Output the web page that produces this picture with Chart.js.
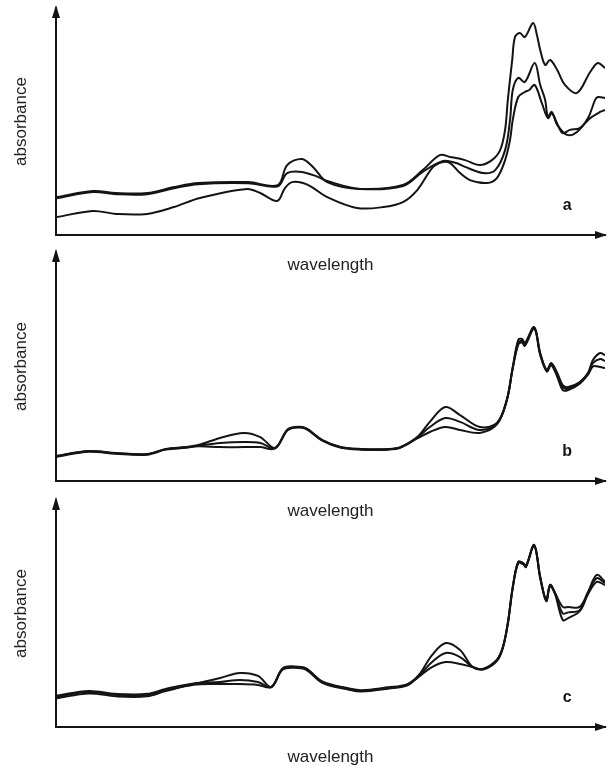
<!DOCTYPE html>
<html>
<head>
<meta charset="utf-8">
<script src="https://cdn.jsdelivr.net/npm/chart.js@4.4.1/dist/chart.umd.min.js"></script>
<style>
  html, body { margin: 0; padding: 0; background: #fff; overflow: hidden; }
  #wrap { position: relative; width: 608px; height: 768px; }
  #wrap canvas { position: absolute; left: 0; }
</style>
</head>
<body>
<div id="wrap">
  <canvas id="chartA" width="608" height="276" style="top:0px"></canvas>
  <canvas id="chartB" width="608" height="276" style="top:246px"></canvas>
  <canvas id="chartC" width="608" height="276" style="top:492px"></canvas>
</div>
<script>
// ==================== DATA ====================
// x: wavelength (0..100, arbitrary), y: absorbance (0..100, arbitrary)

// panel a
const aX1 = [0.2, 6.7, 10.9, 16.6, 21.5, 25.9, 35.0, 40.4, 42.1, 44.8, 46.8, 49.4, 55.4, 63.2, 66.8, 69.9, 71.8, 74.5, 77.2, 79.4,
             80.9, 81.8, 82.3, 83.1, 83.6, 84.5, 85.4, 86.9, 87.6, 88.2, 89.1, 90.0, 91.3, 92.7, 94.9, 97.3, 98.7, 100];
const aY1 = [16.7, 19.4, 18.5, 18.5, 21.1, 22.9, 23.3, 22.0, 30.8, 33.5, 30.0, 23.3, 20.3, 22.0, 28.6, 35.2, 34.4, 33.0, 30.8, 33.0,
             37.4, 46.3, 59.5, 77.1, 87.2, 89.0, 87.2, 93.4, 88.1, 81.5, 74.9, 77.1, 72.7, 66.1, 62.6, 71.8, 75.8, 73.6];
const aX2 = [0.2, 6.7, 10.9, 16.6, 21.5, 25.9, 35.0, 40.4, 42.1, 44.8, 47.7, 49.4, 55.4, 63.2, 66.8, 70.5, 72.9, 74.5, 77.8, 80.0,
             81.8, 82.7, 83.2, 84.2, 85.4, 87.2, 88.2, 89.1, 89.6, 90.3, 91.3, 93.1, 94.9, 96.9, 98.2, 98.7, 100];
const aY2 = [16.2, 18.9, 18.0, 18.0, 20.6, 22.4, 22.8, 21.5, 27.3, 27.8, 25.6, 23.8, 20.3, 21.6, 27.8, 32.6, 31.7, 30.0, 27.3, 28.6,
             37.4, 50.7, 63.9, 69.2, 67.4, 75.8, 66.1, 59.5, 52.0, 54.2, 48.5, 44.1, 45.4, 51.5, 59.5, 60.8, 60.4];
const aX3 = [0.2, 6.7, 10.9, 16.6, 21.5, 26.2, 34.8, 37.2, 40.3, 41.7, 43.0, 45.0, 46.6, 49.4, 54.8, 59.6, 63.2, 65.8, 68.7, 70.5,
             71.8, 73.6, 75.4, 78.5, 80.3, 81.8, 82.7, 83.2, 84.2, 85.4, 86.2, 87.2, 88.5, 89.6, 90.3, 91.4, 92.3, 93.6, 95.4, 97.3,
             99.1, 100];
const aY3 = [7.9, 10.6, 9.3, 9.3, 12.3, 16.3, 20.3, 18.5, 15.0, 20.7, 23.3, 22.9, 21.1, 16.7, 11.9, 12.3, 14.5, 19.8, 30.0, 32.2,
             31.7, 27.3, 24.2, 22.9, 25.1, 33.0, 41.9, 50.7, 60.8, 63.0, 63.9, 66.1, 58.1, 51.5, 53.7, 48.5, 44.9, 46.3, 47.1, 51.5,
             54.2, 55.1];

// panel b
const bX = [0, 6.0, 10.9, 16.6, 20.0, 23.7, 25.9, 29.9, 34.2, 37.2, 39.9, 42.1, 43.5, 45.5, 48.5, 51.9, 55.6, 60.5, 62.7, 65.8,
            68.1, 70.9, 73.6, 77.2, 80.3, 82.1, 83.2, 84.2, 84.9, 85.4, 87.1, 88.2, 89.4, 90.2, 91.3, 92.3, 93.3, 95.4, 96.9, 97.8,
            99.1, 100];
const bY1 = [10.9, 13.1, 12.2, 11.8, 14.0, 14.8, 15.7, 18.8, 21.0, 19.2, 14.4, 22.3, 23.6, 23.1, 17.9, 14.8, 14.0, 14.0, 14.8, 19.2,
             25.8, 32.3, 28.8, 23.6, 25.3, 35.4, 49.8, 61.6, 62.0, 60.3, 67.2, 55.9, 48.5, 51.5, 47.2, 41.9, 41.0, 43.2, 47.2, 52.8,
             55.9, 55.0];
const bY2 = [10.8, 13.0, 12.1, 11.7, 13.9, 14.7, 15.4, 16.6, 17.0, 16.6, 14.4, 22.2, 23.5, 23.0, 17.8, 14.7, 13.9, 13.9, 14.7, 19.0,
             23.6, 27.5, 25.8, 22.3, 25.0, 35.2, 49.5, 60.3, 61.2, 59.6, 67.0, 55.5, 48.2, 51.2, 46.6, 41.0, 40.3, 43.0, 47.0, 51.5,
             53.3, 52.4];
const bY3 = [10.6, 12.8, 11.9, 11.5, 13.7, 14.5, 15.2, 14.8, 14.8, 14.8, 14.2, 22.0, 23.3, 22.8, 17.6, 14.5, 13.7, 13.7, 14.5, 18.6,
             21.4, 23.6, 22.3, 21.0, 24.7, 35.0, 49.2, 59.5, 60.5, 59.0, 66.5, 55.0, 47.8, 50.6, 45.5, 39.7, 39.7, 42.5, 46.4, 50.0,
             49.8, 49.3];

// panel c
const cX = [0, 6.0, 10.9, 16.6, 20.0, 25.1, 29.9, 33.5, 36.8, 39.2, 41.3, 43.5, 45.5, 48.5, 53.4, 55.6, 60.5, 63.9, 66.1, 68.5,
            71.0, 73.6, 75.9, 77.8, 80.3, 81.4, 82.3, 83.2, 84.2, 85.1, 85.6, 87.1, 88.2, 89.3, 90.0, 90.9, 92.3, 93.3, 95.4, 96.9,
            98.5, 100];
const cY1 = [13.2, 15.4, 14.1, 14.1, 16.3, 18.9, 21.6, 23.8, 22.5, 17.6, 25.6, 26.4, 25.6, 19.8, 16.7, 15.9, 17.2, 18.5, 22.9, 31.7,
             37.0, 33.9, 26.4, 25.6, 29.5, 35.2, 45.8, 61.7, 72.7, 72.2, 70.9, 80.2, 66.1, 55.9, 62.6, 59.0, 52.9, 52.9, 52.9, 59.5,
             67.0, 64.0];
const cY2 = [13.8, 15.9, 14.6, 14.6, 16.8, 19.2, 19.8, 20.7, 19.8, 17.6, 25.9, 26.7, 25.9, 20.1, 17.0, 16.2, 17.5, 18.8, 22.6, 28.6,
             32.6, 30.8, 26.4, 25.6, 29.5, 35.2, 45.8, 61.7, 72.7, 72.2, 70.9, 80.2, 66.1, 55.9, 62.6, 59.0, 50.0, 50.5, 51.5, 59.0,
             65.6, 63.4];
const cY3 = [12.6, 14.8, 13.5, 13.5, 15.8, 18.6, 18.9, 18.9, 18.5, 17.6, 25.3, 26.1, 25.3, 19.5, 16.4, 15.6, 16.9, 18.2, 22.2, 26.4,
             28.6, 27.8, 26.4, 25.3, 29.0, 34.8, 45.3, 61.2, 72.2, 71.7, 70.4, 79.8, 65.5, 55.4, 62.0, 58.5, 47.1, 48.0, 51.0, 58.5,
             63.9, 62.5];

const yTitle = "absorbance";
const xTitle = "wavelength";
const panelLetters = ["a", "b", "c"];

// ==================== HELPERS ====================
const INK = "#141414";
const FONT = "'Liberation Sans', Arial, Helvetica, sans-serif";

function toPoints(xs, ys) {
  return xs.map((x, i) => ({ x: x, y: ys[i] }));
}

function lineSet(xs, ys) {
  return {
    data: toPoints(xs, ys),
    borderColor: INK,
    borderWidth: 2,
    pointRadius: 0,
    tension: 0.35,
    fill: false
  };
}

// arrow heads on the axes + the panel letter
const axisArrows = {
  id: "axisArrows",
  afterDraw(chart, args, opts) {
    const ctx = chart.ctx;
    const a = chart.chartArea;
    ctx.save();
    ctx.fillStyle = INK;
    // y arrow
    ctx.beginPath();
    ctx.moveTo(a.left, a.top - 3);
    ctx.lineTo(a.left - 4, a.top + 10);
    ctx.lineTo(a.left + 4, a.top + 10);
    ctx.closePath();
    ctx.fill();
    // x arrow
    ctx.beginPath();
    ctx.moveTo(chart.width - 1, a.bottom);
    ctx.lineTo(chart.width - 13, a.bottom - 4);
    ctx.lineTo(chart.width - 13, a.bottom + 4);
    ctx.closePath();
    ctx.fill();
    // letter
    const xs = chart.scales.x, ys = chart.scales.y;
    ctx.font = "bold 16px " + FONT;
    ctx.textAlign = "center";
    ctx.textBaseline = "middle";
    ctx.fillText(opts.letter, xs.getPixelForValue(93.1), ys.getPixelForValue(13));
    ctx.restore();
  }
};

function makePanel(id, padTop, sets, letter) {
  return new Chart(document.getElementById(id), {
    type: "line",
    data: { datasets: sets },
    options: {
      responsive: false,
      animation: false,
      layout: { padding: { top: padTop, left: 0, right: 3, bottom: 0.6 } },
      plugins: {
        legend: { display: false },
        tooltip: { enabled: false },
        axisArrows: { letter: letter }
      },
      scales: {
        x: {
          type: "linear",
          min: 0,
          max: 100,
          ticks: { display: false },
          grid: { display: false, drawTicks: false },
          border: { display: true, color: INK, width: 2 },
          title: {
            display: true,
            text: xTitle,
            color: "#222",
            font: { family: FONT, size: 17 },
            padding: { top: 20, bottom: 0 }
          }
        },
        y: {
          min: 0,
          max: 100,
          ticks: { display: false },
          grid: { display: false, drawTicks: false },
          border: { display: true, color: INK, width: 2 },
          title: {
            display: true,
            text: yTitle,
            color: "#222",
            font: { family: FONT, size: 17 },
            padding: { top: 10.8, bottom: 24.8 }
          }
        }
      }
    },
    plugins: [axisArrows]
  });
}

makePanel("chartA", 8, [lineSet(aX1, aY1), lineSet(aX2, aY2), lineSet(aX3, aY3)], panelLetters[0]);
makePanel("chartB", 6, [lineSet(bX, bY1), lineSet(bX, bY2), lineSet(bX, bY3)], panelLetters[1]);
makePanel("chartC", 8, [lineSet(cX, cY1), lineSet(cX, cY2), lineSet(cX, cY3)], panelLetters[2]);
</script>
</body>
</html>
